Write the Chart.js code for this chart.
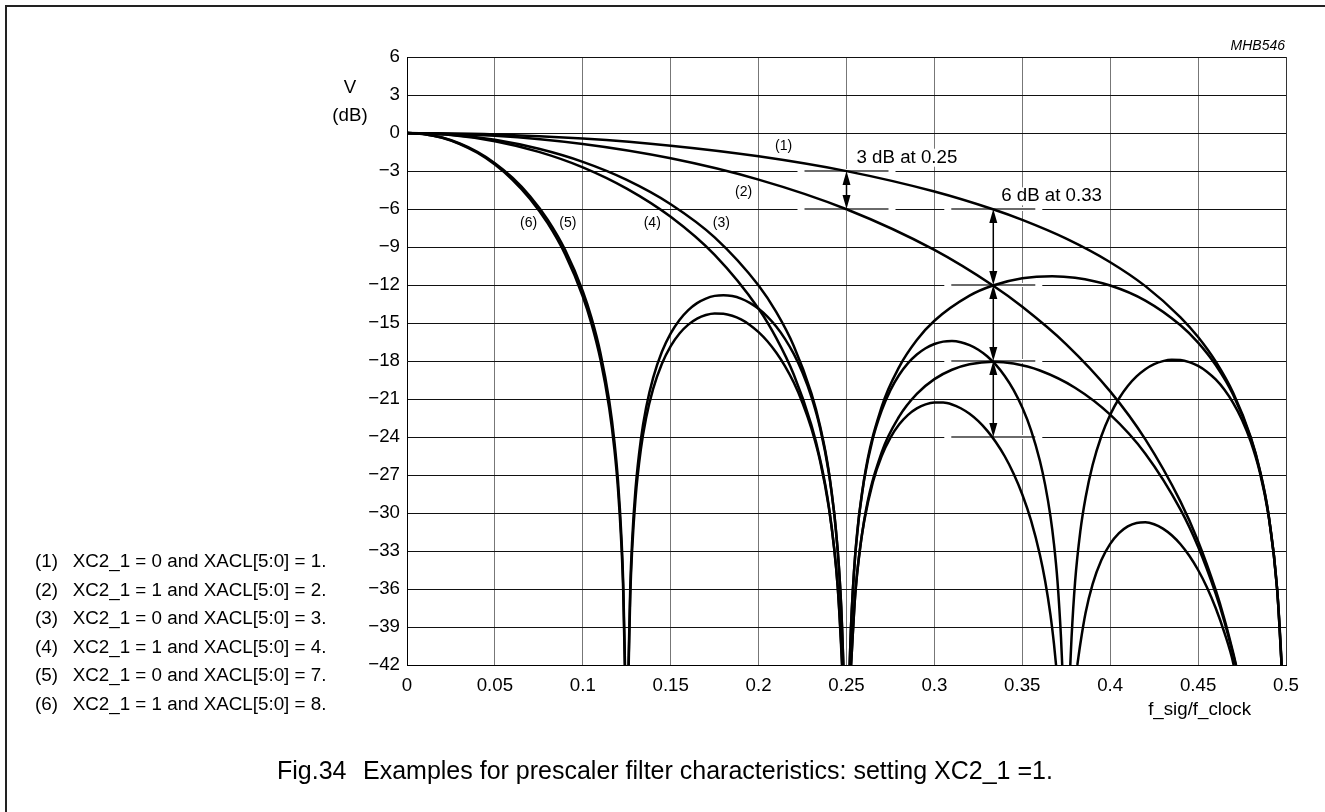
<!DOCTYPE html>
<html>
<head>
<meta charset="utf-8">
<script src="https://cdn.jsdelivr.net/npm/chart.js@4.4.1/dist/chart.umd.min.js"></script>
<style>
  body { margin: 0; background: #fff; }
  #wrap { position: relative; width: 1325px; height: 812px; overflow: hidden; font-family: 'Liberation Sans', Arial, sans-serif; color: #000; }
  #frame { position: absolute; left: 5px; top: 5px; width: 1330px; height: 820px; border-left: 2px solid #222; border-top: 2px solid #222; }
  canvas { position: absolute; left: 0; top: 0; }
  .code { position: absolute; right: 40px; top: 37px; font-size: 14px; font-style: italic; line-height: 16px; }
  .unit { position: absolute; left: 320px; top: 73px; width: 60px; text-align: center; font-size: 18.7px; line-height: 28px; }
  .xname { position: absolute; right: 74px; top: 698px; font-size: 18.7px; line-height: 22px; }
  .legend { position: absolute; left: 35px; top: 547px; font-size: 18.8px; line-height: 28.5px; white-space: pre; }
  .legend span { display: inline-block; width: 37.7px; }
  .caption { position: absolute; left: 277px; top: 756px; font-size: 25px; line-height: 28px; white-space: pre; }
  .caption span { display: inline-block; width: 86px; }
</style>
</head>
<body>
<div id="wrap">
  <div id="frame"></div>
  <canvas id="chart" width="1325" height="812"></canvas>
  <div class="code">MHB546</div>
  <div class="unit">V<br>(dB)</div>
  <div class="xname">f_sig/f_clock</div>
  <div class="legend" id="legend"></div>
  <div class="caption"><span>Fig.34</span>Examples for prescaler filter characteristics: setting XC2_1 =1.</div>
</div>
<script>
// axis ticks
const xTickValues = [0, 0.05, 0.1, 0.15, 0.2, 0.25, 0.3, 0.35, 0.4, 0.45, 0.5]
const xTickLabels = ['0', '0.05', '0.1', '0.15', '0.2', '0.25', '0.3', '0.35', '0.4', '0.45', '0.5']
const yTickValues = [6, 3, 0, -3, -6, -9, -12, -15, -18, -21, -24, -27, -30, -33, -36, -39, -42]
const yTickLabels = ['6', '3', '0', '\u22123', '\u22126', '\u22129', '\u221212', '\u221215', '\u221218', '\u221221', '\u221224', '\u221227', '\u221230', '\u221233', '\u221236', '\u221239', '\u221242']

const legendLabels = ['(1)', '(2)', '(3)', '(4)', '(5)', '(6)']
const legendTexts = [
  'XC2_1 = 0 and XACL[5:0] = 1.',
  'XC2_1 = 1 and XACL[5:0] = 2.',
  'XC2_1 = 0 and XACL[5:0] = 3.',
  'XC2_1 = 1 and XACL[5:0] = 4.',
  'XC2_1 = 0 and XACL[5:0] = 7.',
  'XC2_1 = 1 and XACL[5:0] = 8.'
]

// curves (null = curve dips below -42 and restarts)
const c1X = [0, 0.05, 0.1, 0.15, 0.2, 0.25, 0.3, 0.3333, 0.35, 0.375, 0.4, 0.42, 0.44, 0.45, 0.46, 0.47, 0.48, 0.485, 0.49, 0.495, 0.4975]
const c1Y = [0, -0.11, -0.44, -1.0, -1.84, -3.01, -4.62, -6.02, -6.86, -8.34, -10.2, -12.09, -14.55, -16.11, -18.04, -20.53, -24.04, -26.54, -30.06, -36.08, -42]

const c2X = [0, 0.05, 0.1, 0.15, 0.2, 0.25, 0.3, 0.3333, 0.35, 0.375, 0.4, 0.42, 0.44, 0.45, 0.46, 0.465, 0.47, 0.4716]
const c2Y = [0, -0.22, -0.87, -2.0, -3.68, -6.02, -9.23, -12.04, -13.72, -16.68, -20.4, -24.19, -29.1, -32.22, -36.08, -38.39, -41.06, -42]

const c3X = [0, 0.025, 0.05, 0.075, 0.1, 0.125, 0.15, 0.175, 0.2, 0.21, 0.22, 0.23, 0.235, 0.24, 0.245, 0.2475, 0.2482,
  0.25,
  0.2518, 0.2525, 0.255, 0.26, 0.27, 0.28, 0.29, 0.3, 0.32, 0.3333, 0.35, 0.367, 0.38, 0.4, 0.42, 0.44, 0.45, 0.46, 0.47, 0.48, 0.485, 0.49, 0.495, 0.4975]
const c3Y = [0, -0.13, -0.54, -1.25, -2.28, -3.7, -5.62, -8.24, -12.04, -14.13, -16.81, -20.54, -23.15, -26.79, -32.93, -39.02, -42,
  null,
  -42, -39.16, -33.21, -27.33, -21.63, -18.46, -16.34, -14.82, -12.84, -12.04, -11.47, -11.3, -11.43, -12.04, -13.23, -15.18, -16.55, -18.32, -20.68, -24.11, -26.58, -30.08, -36.08, -42]

const c4X = [0, 0.025, 0.05, 0.075, 0.1, 0.125, 0.15, 0.175, 0.2, 0.21, 0.22, 0.23, 0.235, 0.24, 0.245, 0.2475,
  0.25,
  0.2526, 0.255, 0.26, 0.27, 0.28, 0.29, 0.3, 0.31, 0.32, 0.3333, 0.345, 0.36, 0.38, 0.4, 0.42, 0.44, 0.45, 0.46, 0.465, 0.47, 0.4714]
const c4Y = [0, -0.16, -0.65, -1.49, -2.71, -4.39, -6.62, -9.63, -13.88, -16.18, -19.07, -23.04, -25.77, -29.54, -35.81, -42,
  null,
  -42, -36.36, -30.62, -25.22, -22.37, -20.59, -19.43, -18.69, -18.26, -18.06, -18.2, -18.75, -20.11, -22.24, -25.32, -29.73, -32.66, -36.36, -38.59, -41.21, -42]

const c5X = [0, 0.01, 0.02, 0.03, 0.04, 0.05, 0.06, 0.07, 0.08, 0.09, 0.1, 0.105, 0.11, 0.115, 0.118, 0.12, 0.122, 0.123, 0.124,
  0.125,
  0.126, 0.127, 0.128, 0.13, 0.133, 0.136, 0.14, 0.145, 0.15, 0.155, 0.16, 0.165, 0.17, 0.175, 0.18, 0.185, 0.19, 0.195, 0.2, 0.205, 0.21, 0.215, 0.22, 0.225, 0.23, 0.235, 0.24, 0.243, 0.245, 0.247, 0.2482,
  0.25,
  0.2518, 0.2525, 0.255, 0.258, 0.26, 0.265, 0.27, 0.275, 0.28, 0.285, 0.29, 0.295, 0.3, 0.305, 0.31, 0.315, 0.32, 0.325, 0.33, 0.335, 0.34, 0.345, 0.35, 0.355, 0.36, 0.363, 0.366, 0.368, 0.37, 0.372, 0.3727,
  0.375,
  0.3773, 0.378, 0.38, 0.383, 0.386, 0.39, 0.395, 0.4, 0.405, 0.41, 0.415, 0.42, 0.425, 0.43, 0.435, 0.44, 0.445, 0.45, 0.455, 0.46, 0.465, 0.47, 0.475, 0.48, 0.485, 0.49, 0.493, 0.495, 0.497, 0.4975]
const c5Y = [0, -0.09, -0.36, -0.83, -1.49, -2.38, -3.53, -4.99, -6.84, -9.24, -12.48, -14.61, -17.34, -21.12, -24.38, -27.42, -31.98, -35.56, -42,
  null,
  -42, -35.83, -32.37, -28.08, -24.22, -21.69, -19.33, -17.27, -15.82, -14.76, -13.98, -13.43, -13.07, -12.86, -12.8, -12.87, -13.07, -13.41, -13.88, -14.5, -15.28, -16.25, -17.44, -18.93, -20.81, -23.3, -26.86, -29.99, -32.95, -37.43, -42,
  null,
  -42, -39.16, -33.22, -29.26, -27.4, -24.12, -21.91, -20.3, -19.09, -18.17, -17.49, -16.99, -16.66, -16.47, -16.43, -16.52, -16.75, -17.11, -17.63, -18.31, -19.18, -20.28, -21.68, -23.47, -25.87, -27.78, -30.25, -32.43, -35.36, -39.8, -42,
  null,
  -42, -39.87, -35.47, -31.45, -28.77, -26.21, -23.92, -22.24, -20.96, -19.97, -19.22, -18.65, -18.25, -18.01, -17.9, -17.92, -18.09, -18.39, -18.84, -19.46, -20.27, -21.32, -22.65, -24.39, -26.73, -30.14, -33.2, -36.1, -40.52, -42]

const c6X = [0, 0.01, 0.02, 0.03, 0.04, 0.05, 0.06, 0.07, 0.08, 0.09, 0.1, 0.105, 0.11, 0.115, 0.118, 0.12, 0.122, 0.123, 0.1239,
  0.125,
  0.1261, 0.127, 0.128, 0.13, 0.133, 0.136, 0.14, 0.145, 0.15, 0.155, 0.16, 0.165, 0.17, 0.175, 0.18, 0.185, 0.19, 0.195, 0.2, 0.205, 0.21, 0.215, 0.22, 0.225, 0.23, 0.235, 0.24, 0.243, 0.245, 0.247, 0.2475,
  0.25,
  0.2526, 0.255, 0.258, 0.26, 0.265, 0.27, 0.275, 0.28, 0.285, 0.29, 0.295, 0.3, 0.305, 0.31, 0.315, 0.32, 0.325, 0.33, 0.335, 0.34, 0.345, 0.35, 0.355, 0.36, 0.363, 0.366, 0.368, 0.3692,
  0.375,
  0.3813, 0.383, 0.386, 0.39, 0.395, 0.4, 0.405, 0.41, 0.415, 0.42, 0.425, 0.43, 0.435, 0.44, 0.445, 0.45, 0.455, 0.46, 0.465, 0.47, 0.4702]
const c6Y = [0, -0.09, -0.38, -0.87, -1.56, -2.49, -3.69, -5.2, -7.12, -9.59, -12.91, -15.09, -17.87, -21.7, -24.99, -28.05, -32.63, -36.23, -42,
  null,
  -42, -36.54, -33.09, -28.83, -25.0, -22.51, -20.2, -18.21, -16.82, -15.83, -15.13, -14.65, -14.37, -14.25, -14.27, -14.43, -14.72, -15.15, -15.72, -16.44, -17.33, -18.4, -19.7, -21.31, -23.31, -25.92, -29.61, -32.81, -35.83, -40.36, -42,
  null,
  -42, -36.37, -32.5, -30.69, -27.56, -25.5, -24.05, -23.0, -22.25, -21.74, -21.42, -21.28, -21.28, -21.43, -21.73, -22.17, -22.75, -23.5, -24.41, -25.52, -26.88, -28.54, -30.6, -33.29, -35.37, -38.02, -40.32, -42,
  null,
  -42, -40.34, -37.88, -35.61, -33.71, -32.44, -31.59, -31.06, -30.79, -30.74, -30.89, -31.23, -31.76, -32.47, -33.38, -34.5, -35.86, -37.5, -39.46, -41.85, -42]

const curves = [[c1X, c1Y], [c2X, c2Y], [c3X, c3Y], [c4X, c4Y], [c5X, c5Y], [c6X, c6Y]]

// labels placed in data units
const curveTags = [
  { text: '(1)', x: 0.2142, y: -1.06 },
  { text: '(2)', x: 0.1915, y: -4.63 },
  { text: '(3)', x: 0.1788, y: -7.1 },
  { text: '(4)', x: 0.1395, y: -7.1 },
  { text: '(5)', x: 0.0915, y: -7.1 },
  { text: '(6)', x: 0.0692, y: -7.1 }
]
const notes = [
  { text: '3 dB at 0.25', x: 0.2557, y: -1.95 },
  { text: '6 dB at 0.33', x: 0.338, y: -5.0 }
]
const markers = [[0.25, -3], [0.25, -6], [0.3335, -6], [0.3335, -12], [0.3335, -18], [0.3335, -24]]
const arrows = [[0.25, -3, -6], [0.3335, -6, -12], [0.3335, -12, -18], [0.3335, -18, -24]]

const font = "'Liberation Sans', Arial, sans-serif"

document.getElementById('legend').innerHTML = legendLabels
  .map((l, i) => '<div><span>' + l + '</span>' + legendTexts[i] + '</div>').join('')

const toPoints = (xs, ys) => xs.map((x, i) => ({ x: x, y: ys[i] }))

const head = (ctx, px, py, dir) => {
  ctx.beginPath()
  ctx.moveTo(px, py)
  ctx.lineTo(px - 4, py + dir * 14)
  ctx.lineTo(px + 4, py + dir * 14)
  ctx.closePath()
  ctx.fill()
}

const annotations = {
  id: 'annotations',
  beforeDatasetsDraw(chart) {
    const ctx = chart.ctx
    const { x, y } = chart.scales
    ctx.save()
    // marker bars with white gaps
    markers.forEach(([mx, my]) => {
      const px = x.getPixelForValue(mx)
      const py = y.getPixelForValue(my)
      ctx.fillStyle = '#fff'
      ctx.fillRect(px - 49, py - 2, 98, 4)
      ctx.fillStyle = '#6a6a6a'
      ctx.fillRect(px - 42, py - 1, 84, 2)
    })
    // white box behind the notes
    ctx.font = '18.7px ' + font
    notes.forEach(n => {
      const w = ctx.measureText(n.text).width
      ctx.fillStyle = '#fff'
      ctx.fillRect(x.getPixelForValue(n.x) - 3, y.getPixelForValue(n.y) - 9, w + 6, 18)
    })
    ctx.restore()
  },
  afterDatasetsDraw(chart) {
    const ctx = chart.ctx
    const { x, y } = chart.scales
    ctx.save()
    ctx.fillStyle = '#000'
    ctx.strokeStyle = '#000'
    ctx.lineWidth = 1.5
    arrows.forEach(([ax, y1, y2]) => {
      const px = x.getPixelForValue(ax)
      const top = y.getPixelForValue(y1)
      const bottom = y.getPixelForValue(y2)
      ctx.beginPath()
      ctx.moveTo(px, top + 6)
      ctx.lineTo(px, bottom - 6)
      ctx.stroke()
      head(ctx, px, top, 1)
      head(ctx, px, bottom, -1)
    })
    ctx.textBaseline = 'middle'
    ctx.font = '18.7px ' + font
    ctx.textAlign = 'left'
    notes.forEach(n => ctx.fillText(n.text, x.getPixelForValue(n.x), y.getPixelForValue(n.y)))
    ctx.font = '14px ' + font
    ctx.textAlign = 'center'
    curveTags.forEach(t => ctx.fillText(t.text, x.getPixelForValue(t.x), y.getPixelForValue(t.y)))
    ctx.restore()
  }
}

new Chart(document.getElementById('chart'), {
  type: 'line',
  data: {
    datasets: curves.map(([xs, ys], i) => ({
      label: legendLabels[i],
      data: toPoints(xs, ys),
      borderColor: '#000',
      borderWidth: 2.5,
      pointRadius: 0,
      fill: false,
      spanGaps: false,
      cubicInterpolationMode: 'monotone'
    }))
  },
  options: {
    responsive: false,
    animation: false,
    devicePixelRatio: 1,
    layout: { padding: { left: 347, right: 39, top: 57, bottom: 97 } },
    plugins: {
      legend: { display: false },
      tooltip: { enabled: false }
    },
    scales: {
      x: {
        type: 'linear',
        min: 0,
        max: 0.5,
        afterBuildTicks: s => { s.ticks = xTickValues.map(v => ({ value: v })) },
        afterFit: s => { s.height = 50 },
        grid: {
          color: c => c.tick && c.tick.value === 0.5 ? '#333' : '#777',
          lineWidth: 1,
          drawTicks: false
        },
        border: { color: '#000', width: 1 },
        ticks: {
          autoSkip: false,
          maxRotation: 0,
          padding: 10,
          color: '#000',
          font: { family: font, size: 18.7 },
          callback: v => xTickLabels[xTickValues.indexOf(v)]
        }
      },
      y: {
        type: 'linear',
        min: -42,
        max: 6,
        afterBuildTicks: s => { s.ticks = yTickValues.map(v => ({ value: v })) },
        afterFit: s => { s.width = 60 },
        grid: { color: '#111', lineWidth: 1, drawTicks: false },
        border: { color: '#000', width: 1 },
        ticks: {
          autoSkip: false,
          padding: 7,
          color: '#000',
          font: { family: font, size: 18.7 },
          callback: v => yTickLabels[yTickValues.indexOf(v)]
        }
      }
    }
  },
  plugins: [annotations]
})
</script>
</body>
</html>
